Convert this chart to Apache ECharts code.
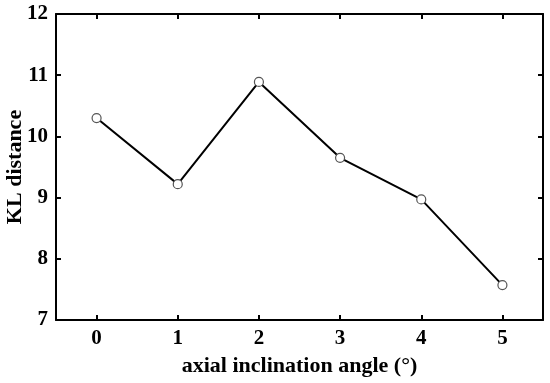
<!DOCTYPE html>
<html><head><meta charset="utf-8">
<script src="https://cdn.jsdelivr.net/npm/echarts@6/dist/echarts.min.js"></script>
<style>html,body{margin:0;padding:0;background:#fff}#c{width:550px;height:383px}</style>
</head><body><div id="c"></div>
<script>
const angles = ['0', '1', '2', '3', '4', '5'];
const klDistance = [10.30, 9.22, 10.89, 9.65, 8.97, 7.57];
const yTicks = [7, 8, 9, 10, 11, 12];

const font = 'Liberation Serif, Times New Roman, serif';
const chart = echarts.init(document.getElementById('c'), null, {renderer: 'canvas'});
const axisLine = {show: true, onZero: false, lineStyle: {color: '#000', width: 2}};
const axisTick = {show: true, inside: true, alignWithLabel: true, length: 5, lineStyle: {color: '#000', width: 2}};
chart.setOption({
  animation: false,
  grid: {left: 56, right: 7, top: 14, bottom: 63, containLabel: false, outerBoundsMode: 'none'},
  xAxis: [{
    type: 'category', data: angles, boundaryGap: true,
    axisLine, axisTick,
    splitLine: {show: false},
    axisLabel: {color: '#000', fontFamily: font, fontWeight: 'bold', fontSize: 21, margin: 8},
    name: 'axial inclination angle (°)', nameLocation: 'middle', nameGap: 35, nameMoveOverlap: false,
    nameTextStyle: {color: '#000', fontFamily: font, fontWeight: 'bold', fontSize: 22}
  }, {
    type: 'category', data: angles, boundaryGap: true, position: 'top',
    axisLine, axisTick, axisLabel: {show: false}, splitLine: {show: false}
  }],
  yAxis: [{
    type: 'value', min: yTicks[0], max: yTicks[yTicks.length - 1], interval: 1,
    axisLine, axisTick,
    splitLine: {show: false},
    axisLabel: {color: '#000', fontFamily: font, fontWeight: 'bold', fontSize: 21, margin: 8},
    name: 'KL distance', nameLocation: 'middle', nameGap: 30, nameMoveOverlap: false,
    nameTextStyle: {color: '#000', fontFamily: font, fontWeight: 'bold', fontSize: 22}
  }, {
    type: 'value', position: 'right', min: 7, max: 12, interval: 1,
    axisLine, axisTick, axisLabel: {show: false}, splitLine: {show: false}
  }],
  series: [{
    type: 'line',
    data: klDistance,
    symbol: 'circle', symbolSize: 9,
    itemStyle: {color: '#fff', borderColor: '#555', borderWidth: 1.2},
    lineStyle: {color: '#000', width: 2}
  }]
});
</script></body></html>
